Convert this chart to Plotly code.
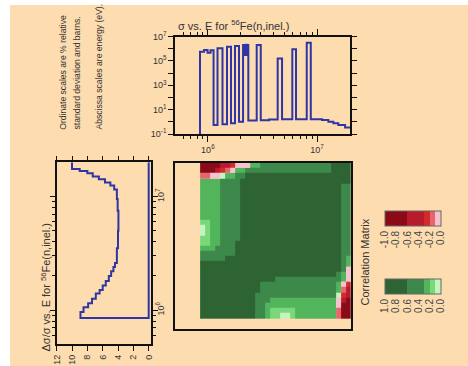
import math
import plotly.graph_objects as go

W, H = 468, 366

# ---------------- data ----------------
# sigma vs E (top panel): step edges (eV) and values
sig_edges = [8.47e5, 9.23e5, 9.93e5, 1.057e6, 1.127e6, 1.225e6, 1.361e6, 1.496e6, 1.629e6,
             1.770e6, 1.928e6, 2.099e6, 2.163e6, 2.188e6, 2.213e6, 2.239e6, 2.265e6, 2.291e6,
             2.345e6, 2.799e6, 3.048e6, 3.631e6, 4.355e6, 4.775e6, 5.929e6, 6.412e6, 8.035e6,
             8.750e6, 1.109e7, 1.268e7, 1.409e7, 1.563e7, 1.803e7, 2.0e7]
sig_vals = [5.66e5, 7.7e5, 4.7e5, 7.4e5, 0.55, 1.07e6, 0.63, 1.45e6, 0.76,
            1.66e6, 1.0, 2.0e6, 3.0e5, 2.0e6, 3.5e5, 2.1e6, 3.0e5, 2.0e6,
            1.3, 2.0e6, 1.35, 1.55, 1.6e5, 1.6, 8.9e5, 1.6, 3.0e6,
            1.6, 1.4, 1.0, 0.75, 0.55, 0.34]

# relative uncertainty (left panel): step edges (eV) and values (%)
unc_edges = [8.5e5, 9.6e5, 1.06e6, 1.15e6, 1.26e6, 1.4e6, 1.5e6, 1.65e6, 1.8e6, 2.0e6,
             2.2e6, 2.4e6, 2.6e6, 3.5e6, 5.0e6, 7.5e6, 9.5e6, 1.15e7, 1.25e7, 1.33e7,
             1.42e7, 1.5e7, 1.6e7, 1.68e7, 1.75e7, 2.0e7]
unc_vals = [8.9, 8.5, 7.9, 7.4, 6.9, 6.4, 6.0, 5.6, 5.2, 4.9,
            4.6, 4.4, 4.15, 4.0, 3.95, 4.05, 4.15, 4.5, 5.0, 5.7,
            6.5, 7.3, 8.0, 9.0, 10.0]

# correlation matrix grid (eV) and rows (row 0 = lowest energy)
corr_edges = [8.472e5, 9.415e5, 1.0459e6, 1.1624e6, 1.2917e6, 1.4354e6, 1.5946e6, 1.7721e6,
              1.9694e6, 2.1874e6, 2.4306e6, 2.7013e6, 3.0007e6, 3.3343e6, 3.7055e6, 4.1183e6,
              4.5743e6, 5.0839e6, 5.6493e6, 6.2777e6, 6.9747e6, 7.7518e6, 8.6099e6, 9.5654e6,
              1.0629e7, 1.1813e7, 1.3122e7, 1.4582e7, 1.6203e7, 1.8002e7, 2.0e7]
corr_rows = [
    "DDDDDDDDDDDMMLPPWWPLLLLLLLLsrr",
    "DDDDDDDDDDDMMLPPPPPLLLLLLLLsrr",
    "DDDDDDDDDDDMMLLLLLLLLLLLLLLkrr",
    "DDDDDDDDDDDMMMLLLLLLLLLLLLLkcr",
    "DDDDDDDDDDDMMMMMMMMMMMMMMMMWec",
    "DDDDDDDDDDDDMMMMMMMMMMMMMMMLsc",
    "DDDDDDDDDDDDMMMMMMMMMMMMMMMLke",
    "DDDDDDDDDDDDDDDMMMMMMMMMMMMMLk",
    "DDDDDDDDDDDDDDDDDDDDDDDDDDDMLk",
    "DDDDDDDDDDDDDDDDDDDDDDDDDDDDMk",
    "DDDDDDDDDDDDDDDDDDDDDDDDDDDDML",
    "MMMMMDDDDDDDDDDDDDDDDDDDDDDDML",
    "MMMMMMMDDDDDDDDDDDDDDDDDDDDDMM",
    "LLLMMMMDDDDDDDDDDDDDDDDDDDDDMM",
    "PPLLMMMDDDDDDDDDDDDDDDDDDDDDMM",
    "PPLLMMMMDDDDDDDDDDDDDDDDDDDDMM",
    "WPLLMMMMDDDDDDDDDDDDDDDDDDDDMM",
    "WPLLMMMMDDDDDDDDDDDDDDDDDDDDMM",
    "PPLLMMMMDDDDDDDDDDDDDDDDDDDDMM",
    "LLLLMMMMDDDDDDDDDDDDDDDDDDDDMM",
    "LLLLMMMMDDDDDDDDDDDDDDDDDDDDMM",
    "LLLLMMMMDDDDDDDDDDDDDDDDDDDDMM",
    "LLLLMMMMDDDDDDDDDDDDDDDDDDDDMM",
    "LLLLMMMMDDDDDDDDDDDDDDDDDDDDMM",
    "LLLLMMMMDDDDDDDDDDDDDDDDDDDDMM",
    "LLLLMMMMDDDDDDDDDDDDDDDDDDDDMM",
    "LLLLMMMMDDDDDDDDDDDDDDDDDDDDDD",
    "sskkWLLMMDDDDDDDDDDDDDDDDDDDDD",
    "rrrceskLLMMMMMMMMMMMMMMMMMDDDD",
    "rrrrccekkkLLMMMMMMMMMMMMMMDDDD",
]
level_values = {'D': 0.8, 'M': 0.45, 'L': 0.25, 'P': 0.15, 'W': 0.05,
                'k': -0.05, 's': -0.15, 'e': -0.25, 'c': -0.45, 'r': -0.8}

cb_ticks = [-1.0, -0.8, -0.6, -0.4, -0.2, 0.0]
neg_labels = ['-1.0', '-0.8', '-0.6', '-0.4', '-0.2', '0.0']
pos_labels = ['1.0', '0.8', '0.6', '0.4', '0.2', '0.0']

x_major = [1e6, 1e7]
x_major_text = ['10<sup>6</sup>', '10<sup>7</sup>']
x_minor = [6e5, 7e5, 8e5, 9e5, 2e6, 3e6, 4e6, 5e6, 6e6, 7e6, 8e6, 9e6]
y_major = [1e-1, 1e1, 1e3, 1e5, 1e7]
y_major_text = ['10<sup>-1</sup>', '10<sup>1</sup>', '10<sup>3</sup>', '10<sup>5</sup>',
                '10<sup>7</sup>']
y_minor = [1e0, 1e2, 1e4, 1e6]
unc_ticks = [0, 2, 4, 6, 8, 10, 12]

# ---------------- styling ----------------
PEACH = '#FDDCB0'
LINE = '#2E35A5'
FONT = 'Liberation Sans, Arial, sans-serif'
TXT = '#333333'
E_RANGE = [math.log10(5e5), math.log10(2e7)]

def px_x(p):
    return p / W

def px_y(p):
    return 1 - p / H

fig = go.Figure()

# top panel
fig.add_trace(go.Scatter(
    x=[5e5] + sig_edges, y=[0.01] + sig_vals + [sig_vals[-1]],
    mode='lines', line=dict(color=LINE, width=2, shape='hv'),
    xaxis='x', yaxis='y', showlegend=False))

# left panel
fig.add_trace(go.Scatter(
    x=[0] + unc_vals + [unc_vals[-1]], y=[2e7] + unc_edges,
    mode='lines', line=dict(color=LINE, width=2, shape='vh'),
    xaxis='x2', yaxis='y2', showlegend=False))

# correlation matrix
corr = [[level_values[c] for c in row] for row in corr_rows]
z_green = [[(-v if v > 0 else None) for v in row] for row in corr]
z_red = [[(v if v < 0 else None) for v in row] for row in corr]

G = ['#2E6434', '#3D894C', '#52B45B', '#7BD87A', '#C6F4C0']
R = ['#8A0A18', '#B71C2D', '#D3292F', '#E6676B', '#F4C3CD']

def discrete(cols):
    b = [0, 0.4, 0.7, 0.8, 0.9, 1.0]
    cs = []
    for k, c in enumerate(cols):
        cs.append([b[k], c])
        cs.append([b[k + 1], c])
    return cs

cb_common = dict(orientation='h', xanchor='center', yanchor='top',
                 len=56, lenmode='pixels', thickness=15, thicknessmode='pixels',
                 xpad=0, ypad=0, outlinewidth=1, outlinecolor='#666666',
                 tickmode='array', tickvals=cb_ticks, tickangle=-90, ticks='',
                 tickfont=dict(family=FONT, size=10, color='#444444'))

fig.add_trace(go.Heatmap(
    x=corr_edges, y=corr_edges, z=z_green, zmin=-1, zmax=0,
    colorscale=discrete(G), xaxis='x3', yaxis='y3', hoverinfo='skip',
    colorbar=dict(cb_common, x=px_x(413), y=px_y(279), ticktext=pos_labels)))
fig.add_trace(go.Heatmap(
    x=corr_edges, y=corr_edges, z=z_red, zmin=-1, zmax=0,
    colorscale=discrete(R), xaxis='x3', yaxis='y3', hoverinfo='skip',
    colorbar=dict(cb_common, x=px_x(413), y=px_y(211), ticktext=neg_labels)))

frame = dict(showline=True, linecolor='#111111', linewidth=1.5, mirror='allticks',
             showgrid=False, zeroline=False, tickcolor='#111111', tickwidth=1,
             tickfont=dict(family=FONT, size=9, color=TXT), automargin=False)

fig.update_layout(
    width=W, height=H, margin=dict(l=0, r=0, t=0, b=0),
    paper_bgcolor='white', plot_bgcolor='white', showlegend=False,
    font=dict(family=FONT, color=TXT),
    xaxis=dict(frame, domain=[px_x(175), px_x(350)], anchor='y', type='log',
               range=E_RANGE, tickmode='array', tickvals=x_major, ticktext=x_major_text,
               ticks='outside', ticklen=6,
               minor=dict(ticks='outside', ticklen=3, tickvals=x_minor, tickcolor='#111111')),
    yaxis=dict(frame, domain=[px_y(134), px_y(36.5)], anchor='x', type='log',
               range=[-1, 7], tickmode='array', tickvals=y_major, ticktext=y_major_text,
               ticks='outside', ticklen=5,
               minor=dict(ticks='outside', ticklen=5, tickvals=y_minor, tickcolor='#111111')),
    xaxis2=dict(frame, domain=[px_x(56.7), px_x(151)], anchor='y2',
                range=[12, -0.3], tickmode='array', tickvals=unc_ticks,
                ticktext=[str(t) for t in unc_ticks], tickangle=-90,
                ticks='outside', ticklen=5),
    yaxis2=dict(frame, domain=[px_y(344.3), px_y(162.3)], anchor='x2', side='right',
                type='log', range=E_RANGE, tickmode='array', tickvals=x_major,
                ticktext=x_major_text, tickangle=-90, ticks='outside', ticklen=5,
                ticklabelstandoff=-5,
                minor=dict(ticks='outside', ticklen=3, tickvals=x_minor, tickcolor='#111111')),
    xaxis3=dict(frame, domain=[px_x(175), px_x(350.7)], anchor='y3', type='log',
                range=E_RANGE, showticklabels=False, ticks=''),
    yaxis3=dict(frame, domain=[px_y(329.3), px_y(162.7)], anchor='x3', type='log',
                range=[5.83, math.log10(2e7)], showticklabels=False, ticks=''),
)

fig.add_shape(type='rect', xref='paper', yref='paper', x0=px_x(10), x1=1.02,
              y0=-0.02, y1=px_y(5), fillcolor=PEACH, line_width=0, layer='below')

def note(text, x, y, size, xanchor='center', yanchor='bottom', angle=-90):
    fig.add_annotation(text=text, x=px_x(x), y=px_y(y), xref='paper', yref='paper',
                       xanchor=xanchor, yanchor=yanchor, textangle=angle, showarrow=False,
                       font=dict(family=FONT, size=size, color=TXT))

note('Ordinate scales are % relative', 63.3, 132, 8.6)
note('standard deviation and barns.', 77, 132, 8.6)
note('Abscissa scales are energy (eV).', 98.5, 132, 8.6)
note('σ vs. E for <sup>56</sup>Fe(n,inel.)', 175.5, 25, 11, xanchor='left', yanchor='middle', angle=0)
note('Δσ/σ vs. E for <sup>56</sup>Fe(n,inel.)', 45, 354, 11)
note('Correlation Matrix', 364, 262.5, 11, yanchor='middle')

fig.write_html('out.html')
